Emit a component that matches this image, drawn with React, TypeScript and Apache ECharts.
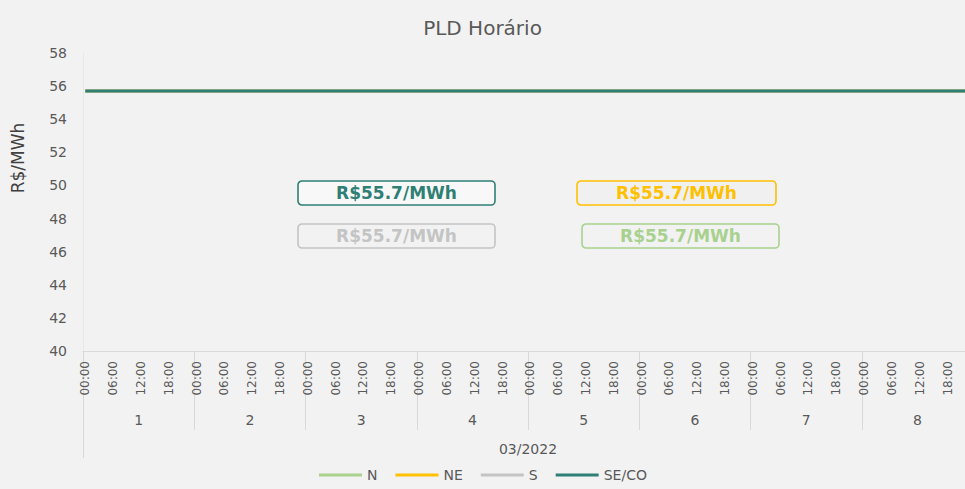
import React, { useEffect, useRef } from "react";
import * as echarts from "echarts";

const chartTitle = "PLD Horário";
const yAxisTitle = "R$/MWh";
const monthLabel = "03/2022";
const days = ["1", "2", "3", "4", "5", "6", "7", "8"];
const hours = [
  "00:00", "01:00", "02:00", "03:00", "04:00", "05:00", "06:00", "07:00",
  "08:00", "09:00", "10:00", "11:00", "12:00", "13:00", "14:00", "15:00",
  "16:00", "17:00", "18:00", "19:00", "20:00", "21:00", "22:00", "23:00",
];

// Hourly PLD (R$/MWh), 03/2022 days 1-8 — identical for all submarkets
const pldHourly = [
  55.7, 55.7, 55.7, 55.7, 55.7, 55.7, 55.7, 55.7, 55.7, 55.7, 55.7, 55.7, 55.7, 55.7, 55.7, 55.7, 55.7, 55.7, 55.7, 55.7, 55.7, 55.7, 55.7, 55.7,
  55.7, 55.7, 55.7, 55.7, 55.7, 55.7, 55.7, 55.7, 55.7, 55.7, 55.7, 55.7, 55.7, 55.7, 55.7, 55.7, 55.7, 55.7, 55.7, 55.7, 55.7, 55.7, 55.7, 55.7,
  55.7, 55.7, 55.7, 55.7, 55.7, 55.7, 55.7, 55.7, 55.7, 55.7, 55.7, 55.7, 55.7, 55.7, 55.7, 55.7, 55.7, 55.7, 55.7, 55.7, 55.7, 55.7, 55.7, 55.7,
  55.7, 55.7, 55.7, 55.7, 55.7, 55.7, 55.7, 55.7, 55.7, 55.7, 55.7, 55.7, 55.7, 55.7, 55.7, 55.7, 55.7, 55.7, 55.7, 55.7, 55.7, 55.7, 55.7, 55.7,
  55.7, 55.7, 55.7, 55.7, 55.7, 55.7, 55.7, 55.7, 55.7, 55.7, 55.7, 55.7, 55.7, 55.7, 55.7, 55.7, 55.7, 55.7, 55.7, 55.7, 55.7, 55.7, 55.7, 55.7,
  55.7, 55.7, 55.7, 55.7, 55.7, 55.7, 55.7, 55.7, 55.7, 55.7, 55.7, 55.7, 55.7, 55.7, 55.7, 55.7, 55.7, 55.7, 55.7, 55.7, 55.7, 55.7, 55.7, 55.7,
  55.7, 55.7, 55.7, 55.7, 55.7, 55.7, 55.7, 55.7, 55.7, 55.7, 55.7, 55.7, 55.7, 55.7, 55.7, 55.7, 55.7, 55.7, 55.7, 55.7, 55.7, 55.7, 55.7, 55.7,
  55.7, 55.7, 55.7, 55.7, 55.7, 55.7, 55.7, 55.7, 55.7, 55.7, 55.7, 55.7, 55.7, 55.7, 55.7, 55.7, 55.7, 55.7, 55.7, 55.7, 55.7, 55.7, 55.7, 55.7,
];
const nValues = pldHourly;
const neValues = pldHourly;
const sValues = pldHourly;
const seCoValues = pldHourly;

const seriesNames = ["N", "NE", "S", "SE/CO"];
const seriesColors = ["#a9d18e", "#ffc000", "#c4c4c4", "#2f7f74"];

const FONT = "DejaVu Sans";

export default function App() {
  const ref = useRef<HTMLDivElement>(null);

  useEffect(() => {
    if (!ref.current) return;
    const chart = echarts.init(ref.current, null, { renderer: "svg" });
    const categories: string[] = [];
    days.forEach(() => hours.forEach((h) => categories.push(h)));
    const allValues = [nValues, neValues, sValues, seCoValues];
    const last = (arr: number[]) => arr[arr.length - 1];
    const boxText = (arr: number[]) => `R$${last(arr).toFixed(1)}/MWh`;

    const makeBox = (x: number, y: number, w: number, color: string, text: string, fill: string) => ({
      type: "group",
      x,
      y,
      children: [
        {
          type: "rect",
          shape: { x: 0, y: 0, width: w, height: 24, r: 4 },
          style: { fill, stroke: color, lineWidth: 1.6 },
        },
        {
          type: "text",
          x: w / 2,
          y: 12,
          style: {
            text,
            fill: color,
            font: `bold 17px "${FONT}"`,
            align: "center",
            verticalAlign: "middle",
          },
        },
      ],
    });

    chart.setOption({
      animation: false,
      backgroundColor: "#f2f2f2",
      title: {
        text: chartTitle,
        left: "center",
        top: 13,
        textStyle: { fontFamily: FONT, fontSize: 20, fontWeight: "normal", color: "#595959" },
      },
      grid: {
        left: 83,
        width: 890,
        top: 53,
        bottom: 138,
        containLabel: false,
        outerBoundsMode: "none",
      },
      legend: {
        left: 314,
        bottom: 2,
        icon: "rect",
        itemWidth: 43,
        itemHeight: 3,
        itemGap: 18,
        data: seriesNames,
        textStyle: { fontFamily: FONT, fontSize: 14, color: "#595959" },
      },
      xAxis: [
        {
          type: "category",
          data: categories,
          position: "bottom",
          boundaryGap: true,
          axisLine: { show: true, lineStyle: { color: "#d9d9d9", width: 1 } },
          axisTick: { show: false },
          axisLabel: {
            interval: (index: number) => index % 6 === 0,
            rotate: 90,
            margin: 10,
            padding: [6, 0, 0, 0],
            fontFamily: FONT,
            fontSize: 12,
            color: "#595959",
          },
          splitLine: { show: false },
        },
        {
          type: "category",
          data: days,
          position: "bottom",
          boundaryGap: true,
          axisLine: { show: false },
          axisTick: { show: true, length: 79, lineStyle: { color: "#d9d9d9" } },
          axisLabel: { margin: 62, fontFamily: FONT, fontSize: 14, color: "#595959" },
          splitLine: { show: false },
        },
        {
          type: "category",
          data: [monthLabel],
          position: "bottom",
          boundaryGap: true,
          axisLine: { show: false },
          axisTick: { show: true, length: 107, lineStyle: { color: "#d9d9d9" } },
          axisLabel: { margin: 91, fontFamily: FONT, fontSize: 14, color: "#595959" },
          splitLine: { show: false },
        },
      ],
      yAxis: {
        type: "value",
        min: 40,
        max: 58,
        interval: 2,
        axisLine: { show: true, lineStyle: { color: "#e8e8e8" } },
        axisTick: { show: false },
        splitLine: { show: false },
        axisLabel: { margin: 16, fontFamily: FONT, fontSize: 14, color: "#595959" },
      },
      series: seriesNames.map((name, i) => ({
        name,
        type: "line",
        xAxisIndex: 0,
        data: allValues[i],
        showSymbol: false,
        symbol: "none",
        lineStyle: { color: seriesColors[i], width: 3 },
        itemStyle: { color: seriesColors[i] },
      })),
      graphic: [
        {
          type: "text",
          x: 18,
          y: 158,
          rotation: Math.PI / 2,
          style: {
            text: yAxisTitle,
            fill: "#404040",
            font: `17px "${FONT}"`,
            align: "center",
            verticalAlign: "middle",
          },
        },
        makeBox(298, 181, 197, seriesColors[3], boxText(seCoValues), "#f8f8f8"),
        makeBox(577, 181, 199, seriesColors[1], boxText(neValues), "#f0f0f0"),
        makeBox(298, 224, 197, seriesColors[2], boxText(sValues), "#f2f2f2"),
        makeBox(582, 224, 197, seriesColors[0], boxText(nValues), "#f2f2f2"),
      ],
    });
    return () => chart.dispose();
  }, []);

  return (
    <div
      ref={ref}
      style={{ position: "absolute", left: 0, top: 0, width: 965, height: 489 }}
    />
  );
}
